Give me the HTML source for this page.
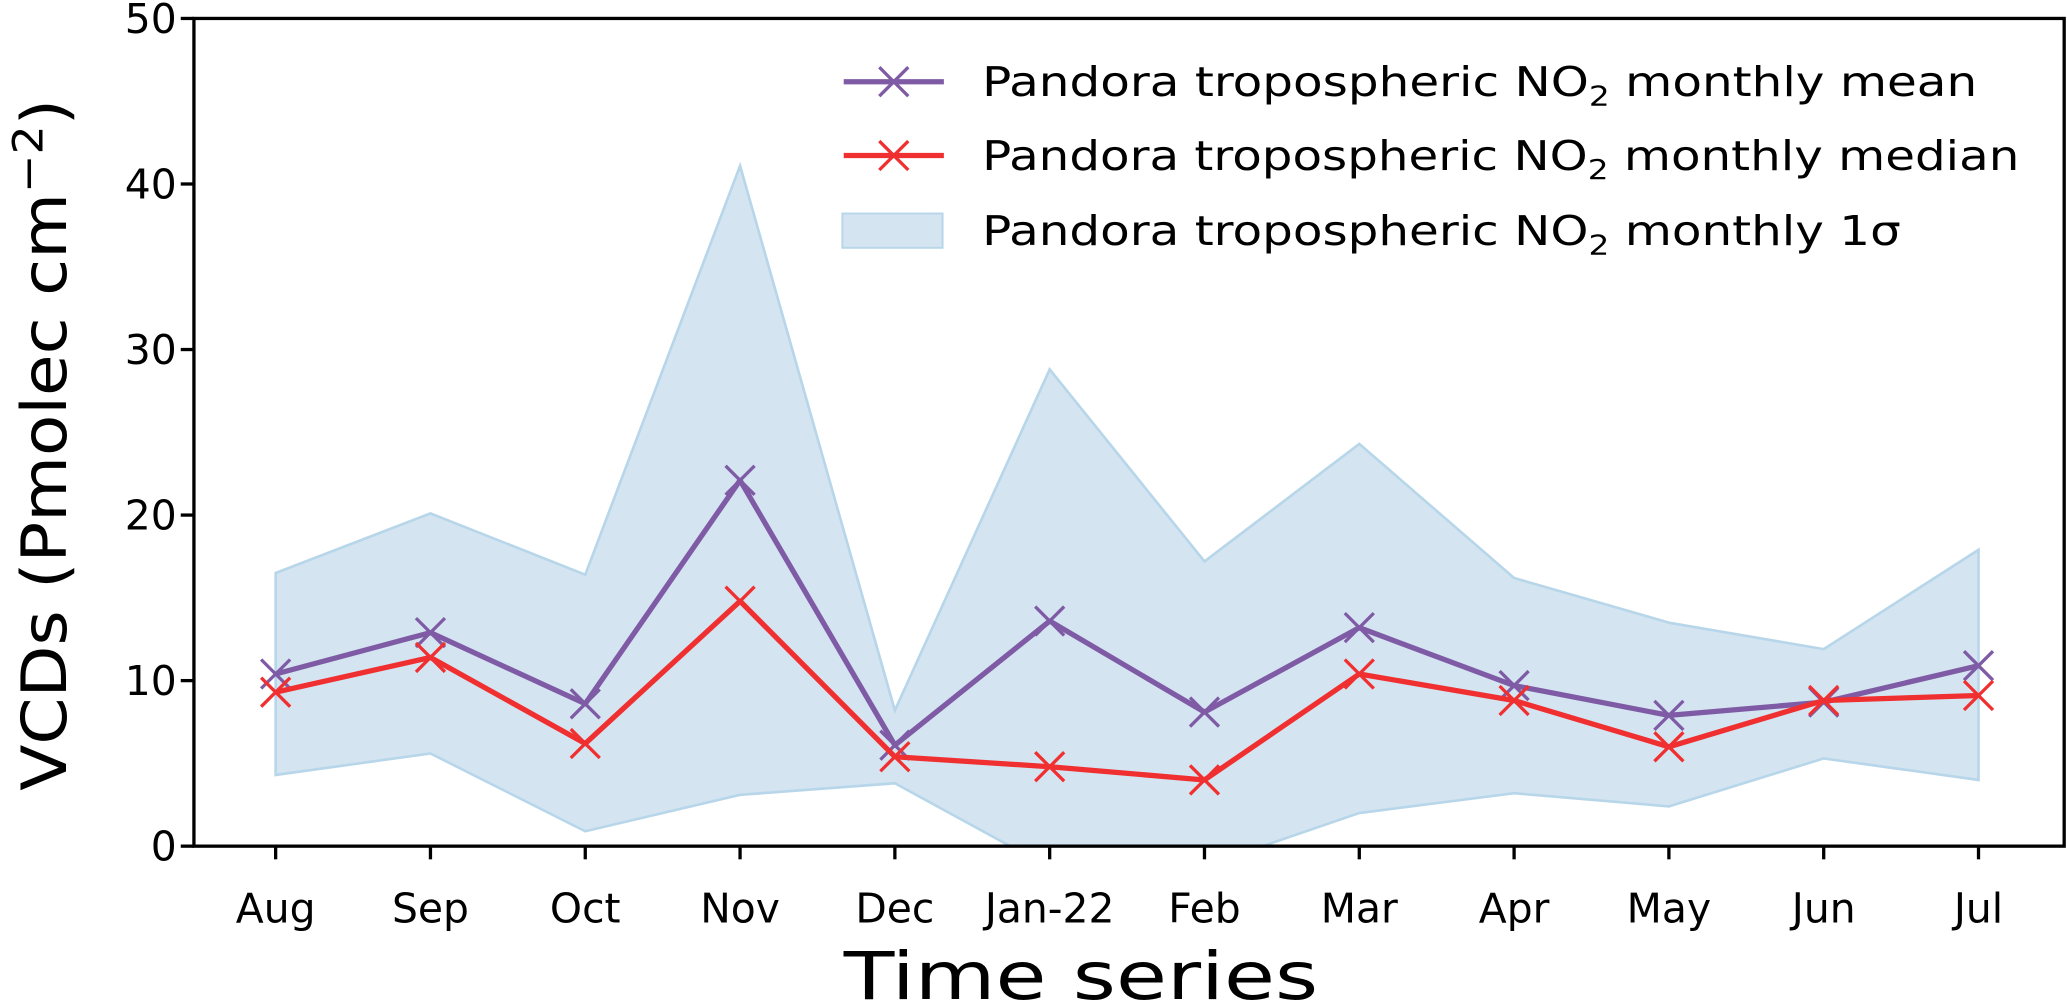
<!DOCTYPE html>
<html><head><meta charset="utf-8"><style>
html,body{margin:0;padding:0;background:#fff;}
svg{display:block;font-family:"DejaVu Sans","Liberation Sans",sans-serif;}
</style></head><body>
<svg id="chart" width="2067" height="1003" viewBox="0 0 1568 761" xmlns="http://www.w3.org/2000/svg">
<defs><clipPath id="plotclip"><rect x="147" y="14" width="1419" height="628"/></clipPath></defs>
<g id="fillg" clip-path="url(#plotclip)"></g>
<g id="lines" clip-path="url(#plotclip)"></g>
<g id="axes"></g>
<text transform="translate(50,600) rotate(-90)" x="0" y="0" font-size="47" textLength="525" lengthAdjust="spacingAndGlyphs">VCDs (Pmolec cm<tspan dy="-18" font-size="32">−2</tspan><tspan dy="18">)</tspan></text>
<text x="640" y="758" font-size="50" textLength="360" lengthAdjust="spacingAndGlyphs">Time series</text>
<g>
<g>
<line x1="640" y1="62" x2="716" y2="62" stroke="#7f5ba6" stroke-width="4"/>
<path d="M667,51 L689,73 M689,51 L667,73" stroke="#7f5ba6" stroke-width="2.5"/>
<text x="745" y="73" font-size="31" textLength="755" lengthAdjust="spacingAndGlyphs">Pandora tropospheric NO<tspan font-size="21" dy="7">2</tspan><tspan dy="-7"> monthly mean</tspan></text>
</g>
<g>
<line x1="640" y1="118" x2="716" y2="118" stroke="#f03030" stroke-width="4"/>
<path d="M667,107 L689,129 M689,107 L667,129" stroke="#f03030" stroke-width="2.5"/>
<text x="745" y="129" font-size="31" textLength="787" lengthAdjust="spacingAndGlyphs">Pandora tropospheric NO<tspan font-size="21" dy="7">2</tspan><tspan dy="-7"> monthly median</tspan></text>
</g>
<g>
<rect x="639" y="162" width="76" height="26" fill="#d4e5f1" stroke="#b8d6ea" stroke-width="1.5"/>
<text x="745" y="186" font-size="31" textLength="697" lengthAdjust="spacingAndGlyphs">Pandora tropospheric NO<tspan font-size="21" dy="7">2</tspan><tspan dy="-7"> monthly 1σ</tspan></text>
</g>
</g>
</svg>
<script>
const months = ["Aug","Sep","Oct","Nov","Dec","Jan-22","Feb","Mar","Apr","May","Jun","Jul"];
const meanVals = [10.4,12.9,8.6,22.1,6.1,13.6,8.1,13.2,9.7,7.9,8.7,10.9];
const medianVals = [9.3,11.4,6.2,14.8,5.4,4.8,4.0,10.4,8.8,6.0,8.8,9.1];
const upperVals = [16.5,20.1,16.4,41.1,8.2,28.8,17.2,24.3,16.2,13.5,11.9,17.9];
const lowerVals = [4.3,5.6,0.9,3.1,3.8,-1.3,-1.2,2.0,3.2,2.4,5.3,4.0];
const yTicks = [0,10,20,30,40,50];

const NS="http://www.w3.org/2000/svg";
const L=147,R=1566,T=14,B=642;
const x = i => 209 + i*(1501-209)/(months.length-1);
const y = v => B - (v/50)*(B-T);
function mk(tag, attrs, parent){const e=document.createElementNS(NS,tag);for(const k in attrs)e.setAttribute(k,attrs[k]);parent.appendChild(e);return e;}

const fillg=document.getElementById('fillg');
let d = upperVals.map((v,i)=>(i?'L':'M')+x(i)+','+y(v)).join(' ');
for(let i=lowerVals.length-1;i>=0;i--) d+=' L'+x(i)+','+y(lowerVals[i]);
const band=mk('path',{d:d+' Z',fill:'#d4e5f1',stroke:'#b8d6ea','stroke-width':2},fillg);



const lines=document.getElementById('lines');
function series(vals,color,name){
  const g=mk('g',{},lines);
  
  
  const p=mk('polyline',{points:vals.map((v,i)=>x(i)+','+y(v)).join(' '),fill:'none',stroke:color,'stroke-width':4,'stroke-linejoin':'round'},g);
  
  
  vals.forEach((v,i)=>{
    const cx=x(i),cy=y(v),s=11;
    const m=mk('path',{d:`M${cx-s},${cy-s} L${cx+s},${cy+s} M${cx+s},${cy-s} L${cx-s},${cy+s}`,stroke:color,'stroke-width':2.5},g);
    
    
  });
}
series(meanVals,'#7f5ba6','mean');
series(medianVals,'#f03030','median');

const axes=document.getElementById('axes');
const frame=mk('rect',{x:L,y:T,width:R-L,height:B-T,fill:'none',stroke:'#000','stroke-width':2.5},axes);


yTicks.forEach(t=>{
  const tk=mk('line',{x1:L-10,x2:L,y1:y(t),y2:y(t),stroke:'#000','stroke-width':2.5},axes);
  
  
  const tx=mk('text',{x:L-13,y:y(t)+11,'text-anchor':'end','font-size':31},axes);
  tx.textContent=t;
  
  
});
months.forEach((m,i)=>{
  const tk=mk('line',{x1:x(i),x2:x(i),y1:B,y2:B+10,stroke:'#000','stroke-width':2.5},axes);
  
  
  const tx=mk('text',{x:x(i),y:B+58,'text-anchor':'middle','font-size':31},axes);
  tx.textContent=m;
  
  
});
</script>
</body></html>
